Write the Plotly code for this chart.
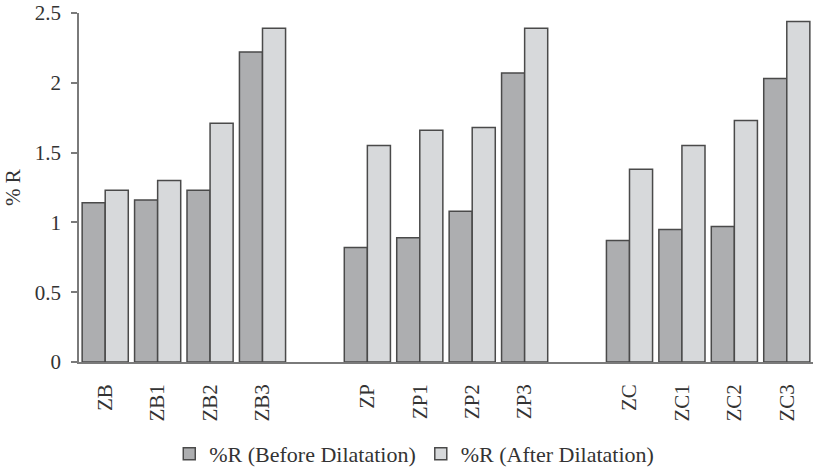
import plotly.graph_objects as go

groups = ["ZB", "ZP", "ZC"]
categories = ["ZB", "ZB1", "ZB2", "ZB3", "ZP", "ZP1", "ZP2", "ZP3", "ZC", "ZC1", "ZC2", "ZC3"]
before = [1.14, 1.16, 1.23, 2.22, 0.82, 0.89, 1.08, 2.07, 0.87, 0.95, 0.97, 2.03]
after = [1.23, 1.30, 1.71, 2.39, 1.55, 1.66, 1.68, 2.39, 1.38, 1.55, 1.73, 2.44]
yticks = [0, 0.5, 1, 1.5, 2, 2.5]
ytick_text = ["0", "0.5", "1", "1.5", "2", "2.5"]

# positions: 4 bars per group, one empty slot between groups
per_group = 4
positions = [(i // per_group) * (per_group + 1) + (i % per_group) for i in range(len(categories))]

font = "Liberation Serif"
txt = "#333333"

fig = go.Figure()
fig.add_trace(go.Bar(x=positions, y=before, name="%R (Before Dilatation)",
                     marker=dict(color="#adaeb0", line=dict(color="#4a4a4a", width=1.5))))
fig.add_trace(go.Bar(x=positions, y=after, name="%R (After Dilatation)",
                     marker=dict(color="#d7d9db", line=dict(color="#4a4a4a", width=1.5))))

fig.update_layout(
    width=814, height=467,
    margin=dict(l=79, r=1, t=13, b=105, autoexpand=False),
    paper_bgcolor="white", plot_bgcolor="white",
    barmode="group", bargap=0.12, bargroupgap=0,
    font=dict(family=font, size=21, color=txt),
    showlegend=True,
    legend=dict(orientation="h", x=0.123, xanchor="left", y=-0.203, yanchor="top",
                font=dict(family=font, size=22, color=txt), itemwidth=30,
                traceorder="normal"),
)
fig.update_xaxes(
    range=[-0.5, positions[-1] + 0.5],
    tickvals=positions, ticktext=categories, tickangle=-90,
    showline=True, linecolor="#7a7a7a", linewidth=1.5,
    showgrid=False, zeroline=False, ticks="", ticklabelstandoff=12,
    tickfont=dict(family=font, size=21, color=txt), automargin=False,
)
fig.update_yaxes(
    range=[0, 2.5], tickvals=yticks, ticktext=ytick_text,
    showline=True, linecolor="#7a7a7a", linewidth=1.5,
    ticks="outside", ticklen=6, tickcolor="#7a7a7a", tickwidth=1.5,
    showgrid=False, zeroline=False, ticklabelstandoff=6,
    title=dict(text="% R", font=dict(family=font, size=21, color=txt), standoff=8),
    tickfont=dict(family=font, size=21, color=txt), automargin=False,
)

fig.write_html("out.html")
